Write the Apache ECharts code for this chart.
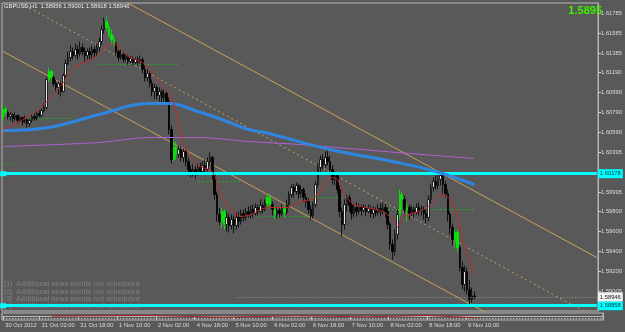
<!DOCTYPE html>
<html><head><meta charset="utf-8">
<script src="https://cdn.jsdelivr.net/npm/echarts@6/dist/echarts.min.js"></script>
<style>html,body{margin:0;padding:0;background:#595959}#c{width:625px;height:332px}</style>
</head><body><div id="c"></div>
<script>
// ---- data ----
const symbolTitle = 'GBPUSD,H1  1.58956 1.59001 1.58918 1.58946';
const bidText = '1.5895';
const slotCount = 248;
const opens = [
1.6074,1.6082,1.6079,1.6075,1.6077,1.6073,1.6076,1.6071,1.6074,1.6070,
1.6072,1.6068,1.6071,1.6075,1.6073,1.6078,1.6076,1.6081,1.6084,1.6112,
1.6120,1.6114,1.6108,1.6104,1.6108,1.6100,1.6116,1.6128,1.6134,1.6140,
1.6136,1.6142,1.6138,1.6144,1.6140,1.6136,1.6140,1.6137,1.6142,1.6139,
1.6144,1.6150,1.6162,1.6170,1.6164,1.6157,1.6152,1.6148,1.6140,1.6134,
1.6137,1.6132,1.6135,1.6130,1.6133,1.6129,1.6132,1.6130,1.6132,1.6122,
1.6114,1.6118,1.6108,1.6100,1.6104,1.6096,1.6100,1.6094,1.6098,1.6090,
1.6062,1.6032,1.6044,1.6037,1.6042,1.6034,1.6040,1.6030,1.6022,1.6019,
1.6022,1.6018,1.6024,1.6020,1.6026,1.6022,1.6030,1.6034,1.6017,1.5997,
1.5977,1.5970,1.5980,1.5967,1.5974,1.5966,1.5972,1.5966,1.5974,1.5970,
1.5978,1.5974,1.5980,1.5977,1.5982,1.5978,1.5984,1.5980,1.5986,1.5982,
1.5988,1.5994,1.5987,1.5982,1.5977,1.5981,1.5978,1.5983,1.5979,1.5987,
1.5997,1.6004,1.6000,1.6006,1.5998,1.6002,1.5994,1.5990,1.5982,1.5976,
1.5987,1.6007,1.6024,1.6032,1.6027,1.6034,1.6030,1.6022,1.6012,1.6016,
1.6002,1.5980,1.5967,1.5987,1.5994,1.5986,1.5978,1.5984,1.5980,1.5985,
1.5981,1.5984,1.5980,1.5983,1.5978,1.5982,1.5979,1.5983,1.5980,1.5984,
1.5980,1.5967,1.5947,1.5940,1.5957,1.5977,1.5997,1.5992,1.5982,1.5984,
1.5978,1.5982,1.5979,1.5984,1.5980,1.5982,1.5978,1.5974,1.5992,1.6004,
1.6010,1.6006,1.6012,1.6016,1.6007,1.5998,1.5977,1.5964,1.5952,1.5959,
1.5944,1.5924,1.5907,1.5920,1.5902,1.5892,1.58956];
const closes = [
1.6082,1.6079,1.6075,1.6077,1.6073,1.6076,1.6071,1.6074,1.6070,1.6072,
1.6068,1.6071,1.6075,1.6073,1.6078,1.6076,1.6081,1.6084,1.6112,1.6120,
1.6114,1.6108,1.6104,1.6108,1.6100,1.6116,1.6128,1.6134,1.6140,1.6136,
1.6142,1.6138,1.6144,1.6140,1.6136,1.6140,1.6137,1.6142,1.6139,1.6144,
1.6150,1.6162,1.6170,1.6164,1.6157,1.6152,1.6148,1.6140,1.6134,1.6137,
1.6132,1.6135,1.6130,1.6133,1.6129,1.6132,1.6130,1.6132,1.6122,1.6114,
1.6118,1.6108,1.6100,1.6104,1.6096,1.6100,1.6094,1.6098,1.6090,1.6062,
1.6032,1.6044,1.6037,1.6042,1.6034,1.6040,1.6030,1.6022,1.6019,1.6022,
1.6018,1.6024,1.6020,1.6026,1.6022,1.6030,1.6034,1.6017,1.5997,1.5977,
1.5970,1.5980,1.5967,1.5974,1.5966,1.5972,1.5966,1.5974,1.5970,1.5978,
1.5974,1.5980,1.5977,1.5982,1.5978,1.5984,1.5980,1.5986,1.5982,1.5988,
1.5994,1.5987,1.5982,1.5977,1.5981,1.5978,1.5983,1.5979,1.5987,1.5997,
1.6004,1.6000,1.6006,1.5998,1.6002,1.5994,1.5990,1.5982,1.5976,1.5987,
1.6007,1.6024,1.6032,1.6027,1.6034,1.6030,1.6022,1.6012,1.6016,1.6002,
1.5980,1.5967,1.5987,1.5994,1.5986,1.5978,1.5984,1.5980,1.5985,1.5981,
1.5984,1.5980,1.5983,1.5978,1.5982,1.5979,1.5983,1.5980,1.5984,1.5980,
1.5967,1.5947,1.5940,1.5957,1.5977,1.5997,1.5992,1.5982,1.5984,1.5978,
1.5982,1.5979,1.5984,1.5980,1.5982,1.5978,1.5974,1.5992,1.6004,1.6010,
1.6006,1.6012,1.6016,1.6007,1.5998,1.5977,1.5964,1.5952,1.5959,1.5944,
1.5924,1.5907,1.5920,1.5902,1.5892,1.58956,1.58946];
const highs = [
1.6086,1.6085,1.6081,1.6080,1.6078,1.6079,1.6077,1.6076,1.6075,1.6076,
1.6073,1.6073,1.6077,1.6078,1.6080,1.6081,1.6083,1.6088,1.6114,1.6124,
1.6122,1.6116,1.6112,1.6110,1.6110,1.6118,1.6132,1.6140,1.6146,1.6144,
1.6148,1.6146,1.6150,1.6148,1.6144,1.6143,1.6144,1.6146,1.6145,1.6148,
1.6154,1.6166,1.6174,1.6175,1.6168,1.6162,1.6156,1.6150,1.6142,1.6142,
1.6140,1.6138,1.6137,1.6136,1.6135,1.6134,1.6135,1.6136,1.6134,1.6126,
1.6122,1.6120,1.6112,1.6108,1.6106,1.6104,1.6102,1.6102,1.6100,1.6094,
1.6066,1.6052,1.6050,1.6046,1.6045,1.6043,1.6042,1.6034,1.6026,1.6027,
1.6025,1.6028,1.6029,1.6030,1.6032,1.6034,1.6039,1.6036,1.6020,1.6000,
1.5984,1.5984,1.5982,1.5980,1.5978,1.5977,1.5976,1.5979,1.5980,1.5982,
1.5982,1.5984,1.5985,1.5986,1.5987,1.5988,1.5987,1.5992,1.5989,1.5992,
1.5997,1.5998,1.5990,1.5986,1.5985,1.5984,1.5987,1.5986,1.5992,1.6000,
1.6007,1.6008,1.6009,1.6008,1.6006,1.6004,1.5998,1.5994,1.5986,1.5990,
1.6010,1.6028,1.6036,1.6037,1.6040,1.6042,1.6036,1.6026,1.6020,1.6018,
1.6006,1.5984,1.5992,1.5997,1.5997,1.5990,1.5988,1.5989,1.5988,1.5987,
1.5987,1.5986,1.5987,1.5986,1.5985,1.5984,1.5987,1.5988,1.5989,1.5988,
1.5984,1.5970,1.5952,1.5962,1.5982,1.6002,1.6000,1.5996,1.5989,1.5987,
1.5986,1.5985,1.5988,1.5989,1.5986,1.5985,1.5982,1.5996,1.6008,1.6014,
1.6016,1.6017,1.6020,1.6018,1.6010,1.6002,1.5980,1.5968,1.5962,1.5962,
1.5947,1.5930,1.5926,1.5924,1.5912,1.5904,1.59001];
const lows = [
1.6071,1.6076,1.6072,1.6071,1.6069,1.6071,1.6068,1.6069,1.6066,1.6068,
1.6064,1.6065,1.6069,1.6071,1.6071,1.6074,1.6074,1.6079,1.6082,1.6109,
1.6110,1.6105,1.6100,1.6097,1.6095,1.6099,1.6114,1.6126,1.6130,1.6132,
1.6134,1.6132,1.6135,1.6136,1.6130,1.6132,1.6132,1.6133,1.6134,1.6135,
1.6140,1.6147,1.6158,1.6160,1.6154,1.6148,1.6145,1.6136,1.6130,1.6132,
1.6129,1.6130,1.6127,1.6128,1.6126,1.6127,1.6126,1.6128,1.6118,1.6110,
1.6110,1.6104,1.6095,1.6092,1.6092,1.6090,1.6088,1.6089,1.6086,1.6057,
1.6028,1.6030,1.6032,1.6034,1.6030,1.6029,1.6025,1.6016,1.6014,1.6015,
1.6013,1.6016,1.6017,1.6018,1.6019,1.6020,1.6026,1.6012,1.5992,1.5970,
1.5966,1.5964,1.5962,1.5960,1.5959,1.5962,1.5958,1.5962,1.5964,1.5967,
1.5970,1.5971,1.5974,1.5973,1.5974,1.5976,1.5976,1.5978,1.5978,1.5980,
1.5985,1.5984,1.5976,1.5972,1.5973,1.5974,1.5975,1.5974,1.5977,1.5984,
1.5994,1.5994,1.5997,1.5993,1.5994,1.5990,1.5984,1.5978,1.5972,1.5973,
1.5984,1.6004,1.6020,1.6022,1.6024,1.6026,1.6018,1.6007,1.6006,1.5998,
1.5974,1.5955,1.5962,1.5980,1.5980,1.5972,1.5974,1.5975,1.5977,1.5976,
1.5979,1.5975,1.5978,1.5974,1.5973,1.5975,1.5976,1.5975,1.5977,1.5974,
1.5962,1.5942,1.5932,1.5936,1.5952,1.5972,1.5982,1.5978,1.5970,1.5972,
1.5976,1.5974,1.5977,1.5976,1.5976,1.5972,1.5968,1.5970,1.5988,1.6000,
1.6002,1.6002,1.6006,1.5998,1.5994,1.5970,1.5957,1.5946,1.5944,1.5940,
1.5920,1.5902,1.5900,1.5897,1.5887,1.5889,1.58918];
const greenBars = [0,1,19,20,43,44,45,46,71,72,91,92,110,111,113,117,165,166,168,188,189];
const timeTicks = [[0,'30 Oct 2012'],[15,'31 Oct 02:00'],[31,'31 Oct 18:00'],[47,'1 Nov 10:00'],
 [63,'2 Nov 02:00'],[79,'4 Nov 18:00'],[95,'5 Nov 10:00'],[111,'6 Nov 02:00'],[127,'6 Nov 18:00'],
 [143,'7 Nov 10:00'],[159,'8 Nov 02:00'],[175,'8 Nov 18:00'],[191,'9 Nov 10:00']];
const priceTicks = [1.61785,1.61585,1.61385,1.61190,1.60990,1.60790,1.60590,1.60395,
 1.59995,1.59800,1.59600,1.59400,1.59200,1.59005];
const priceMin = 1.58805, priceMax = 1.61885;
const maFast = [[0,1.6062],[7,1.6070],[16,1.6085],[22,1.6100],[26,1.6112],[30,1.6125],[35,1.6130],
 [41,1.6139],[44,1.6147],[47,1.6147],[49,1.6142],[52,1.6135],[58,1.6129],[62,1.6119],[66,1.6107],
 [69,1.6099],[72,1.6079],[74,1.6055],[78,1.6035],[82,1.6025],[87,1.6020],[91,1.5995],[95,1.5982],
 [99,1.5975],[103,1.5977],[107,1.5982],[111,1.5984],[118,1.5984],[124,1.5990],[128,1.5992],
 [132,1.6000],[136,1.6014],[139,1.6012],[142,1.5997],[146,1.5987],[151,1.5984],[158,1.5980],
 [162,1.5972],[164,1.5965],[167,1.5975],[175,1.5982],[179,1.5989],[182,1.5997],[186,1.5992],
 [189,1.5974],[191,1.5952],[194,1.5932],[196,1.5917]];
const maSlow = [[0,1.6061],[19,1.6064],[40,1.6077],[61,1.6088],[69,1.6088],[81,1.6080],[92,1.6071],
 [102,1.6062],[109,1.6059],[136,1.6042],[164,1.6029],[180,1.6020],[196,1.6007]];
const maLong = [[0,1.6045],[40,1.6049],[61,1.6054],[81,1.6054],[102,1.6050],[123,1.6047],[164,1.6039],[196,1.6033]];
const pivotSegments = [[0,4,1.6028],[11,29,1.6073],[40,73,1.6127],[81,99,1.6010],[107,127,1.5975],
 [127,142,1.5994],[150,196,1.5982]];
const trendSolid = [[[40,1.6204],[247,1.5934]],[[0,1.6140],[210,1.5867]]];
const trendDotted = [[[0,1.6198],[247,1.5873]]];
const levelLines = [1.60178, 1.58858];
const lastPrice = 1.58946;
const subIndicator = [[20,0.1],[60,0.3],[90,-0.2],[120,0.2],[150,-0.1],[175,0.3],[196,-0.4]];
const newsLines = ['(1)  Additional news events not scheduled','(2)  Additional news events not scheduled',
 '(3)  Additional news events not scheduled','(4)  Additional news events not scheduled'];

// ---- chart ----
const FONT = '"Liberation Sans", Arial, sans-serif';
const cats = Array.from({length: slotCount}, (_, i) => String(i));
const lastIdx = String(slotCount - 1);
const tickMap = {}; timeTicks.forEach(t => tickMap[t[0]] = t[1]);
const greenSet = new Set(greenBars);
const GREEN = '#00f000';
const candles = opens.map((o, i) => {
  const v = [o, closes[i], lows[i], highs[i]];
  if (greenSet.has(i)) return {value: v, itemStyle: {color: GREEN, color0: GREEN, borderColor: GREEN, borderColor0: GREEN}};
  return v;
});
const TAN = '#c9a05c';
const boxLabel = (bg, fg) => ({show:true, position:'end', distance:1, formatter:'{b}', backgroundColor:bg,
  color:fg, fontSize:5.8, fontFamily:FONT, padding:[2,2,1,2]});
const series = [];
trendSolid.forEach(s => series.push({type:'line', data:s, symbol:'none', silent:true, z:3,
  lineStyle:{color:TAN, width:1}}));
trendDotted.forEach(s => series.push({type:'line', data:s, symbol:'none', silent:true, z:3,
  lineStyle:{color:TAN, width:1, type:[2,3]}}));
pivotSegments.forEach(s => series.push({type:'line', data:[[s[0],s[2]],[s[1],s[2]]], symbol:'none', silent:true, z:3,
  lineStyle:{color:'#1fb01f', width:1, type:[2,2]}}));
series.push({type:'candlestick', data:candles, barWidth:2, z:4,
  itemStyle:{color:'#e4e4e4', color0:'#000', borderColor:'#000', borderColor0:'#000', borderWidth:0.8}});
series.push({type:'line', data:maLong, symbol:'none', silent:true, z:5, smooth:0.3,
  lineStyle:{color:'#b060d0', width:1}});
series.push({type:'line', data:maSlow, symbol:'none', silent:true, z:5, smooth:0.4,
  lineStyle:{color:'#2f86e0', width:3}});
series.push({type:'line', data:maFast, symbol:'none', silent:true, z:6, smooth:0.3,
  lineStyle:{color:'#c42a2a', width:1}});
// horizontal levels
series.push({type:'line', data:[], silent:true, z:7,
  markLine:{silent:true, animation:false, symbol:'none',
    data:[
      ...levelLines.map(v => [
        {coord:['0', v], name:v.toFixed(5), symbol:'rect', symbolSize:[5,6],
          lineStyle:{color:'#00ffff', width:3, type:'solid'}, label:boxLabel('#00ffff','#06343c')},
        {coord:[lastIdx, v], symbol:'none'}]),
      [{coord:['97', lastPrice], name:lastPrice.toFixed(5), symbol:'none',
        lineStyle:{color:'#9a9aa8', width:1, type:[1,2]}, label:boxLabel('#f2f2f2','#222')},
       {coord:[lastIdx, lastPrice], symbol:'none'}]
    ]}});
series.push({type:'line', xAxisIndex:1, yAxisIndex:1, data:subIndicator, symbol:'none', silent:true,
  lineStyle:{color:'#b02020', width:1},
  markLine:{silent:true, symbol:'none', label:{show:false},
    data:[[{coord:['0',-0.6]},{coord:[lastIdx,-0.6]}]],
    lineStyle:{color:'#d8d8d8', width:1, type:[1,2]}}});

const chart = echarts.init(document.getElementById('c'), null, {renderer:'canvas'});
chart.setOption({
  animation:false,
  backgroundColor:'#595959',
  title:[
    {text:symbolTitle, left:4, top:3, padding:0, textStyle:{color:'#ececec', fontSize:5.8, fontWeight:'normal', fontFamily:FONT}},
    {text:bidText, right:23, top:5, padding:0, textStyle:{color:'#3cf000', fontSize:11, fontWeight:'bold', fontFamily:FONT}}
  ],
  graphic: newsLines.map((t, i) => ({type:'text', left:4, top:281 + i*7.3, silent:true, z:1,
    style:{text:t, fill:'#74787e', font:'bold 6.8px ' + FONT}})),
  grid:[
    {left:2, right:22, top:3, height:308, show:true, borderColor:'#b8b8b8', borderWidth:1},
    {left:2, right:22, top:313, height:7, show:true, borderColor:'#b8b8b8', borderWidth:1}
  ],
  xAxis:[
    {type:'category', gridIndex:0, data:cats, boundaryGap:true,
      axisLine:{show:false}, axisTick:{show:false}, axisLabel:{show:false}, splitLine:{show:false}},
    {type:'category', gridIndex:1, data:cats, boundaryGap:true,
      axisLine:{lineStyle:{color:'#b8b8b8'}},
      axisTick:{show:true, alignWithLabel:true, length:3, interval:(i) => i in tickMap, lineStyle:{color:'#d0d0d0'}},
      axisLabel:{show:true, interval:(i) => i in tickMap, formatter:(v, i) => tickMap[i] || '',
        align:'left', margin:2, padding:[0,0,0,2], color:'#dcdcdc', fontSize:5.8, fontFamily:FONT},
      splitLine:{show:false}}
  ],
  yAxis:[
    {type:'value', gridIndex:0, position:'right', min:priceMin, max:priceMax, scale:true,
      axisLine:{show:true, lineStyle:{color:'#b8b8b8'}},
      axisTick:{show:true, length:3, customValues:priceTicks, lineStyle:{color:'#d0d0d0'}},
      axisLabel:{show:true, customValues:priceTicks, formatter:(v) => v.toFixed(5), margin:3,
        color:'#dcdcdc', fontSize:5.8, fontFamily:FONT},
      splitLine:{show:false}},
    {type:'value', gridIndex:1, position:'right', min:-1, max:1,
      axisLine:{show:true, lineStyle:{color:'#b8b8b8'}}, axisTick:{show:false}, axisLabel:{show:false},
      splitLine:{show:false}}
  ],
  series
});
</script></body></html>
